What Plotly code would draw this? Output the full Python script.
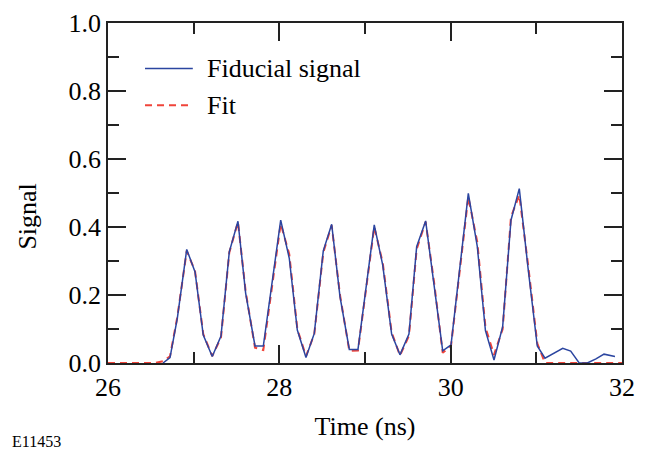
import plotly.graph_objects as go

# Fiducial signal (time in ns, signal)
signal_time = [26.642, 26.724, 26.809, 26.919, 27.016, 27.112, 27.217, 27.319, 27.416, 27.517,
               27.607, 27.716, 27.813, 27.914, 28.016, 28.116, 28.210, 28.311, 28.408, 28.513,
               28.611, 28.708, 28.817, 28.918, 29.011, 29.108, 29.207, 29.311, 29.408, 29.513,
               29.603, 29.708, 29.805, 29.907, 30.004, 30.105, 30.206, 30.311, 30.406, 30.506,
               30.607, 30.704, 30.801, 30.903, 31.011, 31.101, 31.206, 31.308, 31.401, 31.498,
               31.595, 31.696, 31.790, 31.918]
signal_vals = [0.000, 0.016, 0.131, 0.334, 0.268, 0.082, 0.019, 0.079, 0.327, 0.417,
               0.205, 0.050, 0.050, 0.230, 0.420, 0.308, 0.097, 0.016, 0.087, 0.330,
               0.408, 0.195, 0.040, 0.040, 0.220, 0.406, 0.288, 0.085, 0.024, 0.085,
               0.342, 0.418, 0.231, 0.036, 0.053, 0.276, 0.499, 0.342, 0.095, 0.009,
               0.107, 0.420, 0.513, 0.280, 0.050, 0.014, 0.028, 0.043, 0.035, 0.001,
               0.000, 0.012, 0.026, 0.019]

# Fit
fit_time = [26.0, 26.55, 26.642, 26.724, 26.809, 26.919, 27.016, 27.112, 27.217, 27.319,
            27.416, 27.517, 27.607, 27.716, 27.813, 27.914, 28.016, 28.116, 28.210, 28.311,
            28.408, 28.513, 28.611, 28.708, 28.817, 28.918, 29.011, 29.108, 29.207, 29.311,
            29.408, 29.513, 29.603, 29.708, 29.805, 29.907, 30.004, 30.105, 30.206, 30.311,
            30.406, 30.506, 30.607, 30.704, 30.801, 30.903, 31.011, 31.101, 32.0]
fit_vals = [0.0, 0.0, 0.005, 0.020, 0.135, 0.330, 0.270, 0.085, 0.020, 0.075,
            0.325, 0.415, 0.210, 0.045, 0.038, 0.225, 0.410, 0.320, 0.100, 0.020,
            0.085, 0.325, 0.405, 0.200, 0.036, 0.037, 0.215, 0.400, 0.295, 0.090,
            0.022, 0.080, 0.335, 0.415, 0.240, 0.030, 0.050, 0.270, 0.489, 0.355,
            0.105, 0.024, 0.100, 0.430, 0.494, 0.290, 0.058, 0.0, 0.0]

x_ticks = [26, 28, 30, 32]
y_ticks = [0.0, 0.2, 0.4, 0.6, 0.8, 1.0]

BLUE = "#2b45a0"
RED = "#f0443a"
FONT = "Liberation Serif, Times New Roman, serif"
FS = 26

fig = go.Figure()
fig.add_trace(go.Scatter(x=fit_time, y=fit_vals, mode="lines", name="Fit",
                         line=dict(color=RED, width=2, dash="7px,5px"), showlegend=False))
fig.add_trace(go.Scatter(x=signal_time, y=signal_vals, mode="lines", name="Fiducial signal",
                         line=dict(color=BLUE, width=1.5), showlegend=False))

axis_common = dict(showgrid=False, zeroline=False, showline=True, linecolor="#222",
                   linewidth=1.5, mirror="ticks", ticks="inside", ticklen=18,
                   tickwidth=1.5, tickcolor="#222", automargin=False,
                   tickfont=dict(family=FONT, size=FS, color="black"))

fig.update_xaxes(range=[26, 32], tickvals=x_ticks, ticktext=[str(v) for v in x_ticks],
                 minor=dict(dtick=1, tick0=26, ticklen=11, tickwidth=1.5, tickcolor="#222", ticks="inside"),
                 title=dict(text="Time (ns)", font=dict(family=FONT, size=FS, color="black"), standoff=16),
                 **axis_common)
fig.update_yaxes(range=[0, 1.0], tickvals=y_ticks, ticktext=[f"{v:.1f}" for v in y_ticks],
                 minor=dict(dtick=0.1, tick0=0, ticklen=11, tickwidth=1.5, tickcolor="#222", ticks="inside"),
                 **axis_common)

# y-axis title placed as rotated text
fig.add_annotation(xref="paper", yref="paper", x=-0.156, y=0.43, text="Signal", textangle=-90,
                   showarrow=False, xanchor="center", yanchor="middle",
                   font=dict(family=FONT, size=FS, color="black"))

# Legend drawn as shapes + text
fig.add_shape(type="line", xref="paper", yref="paper", x0=0.072, x1=0.165, y0=0.866, y1=0.866,
              line=dict(color=BLUE, width=1.5))
fig.add_shape(type="line", xref="paper", yref="paper", x0=0.072, x1=0.165, y0=0.758, y1=0.758,
              line=dict(color=RED, width=2, dash="7px,5px"))
fig.add_annotation(xref="paper", yref="paper", x=0.189, y=0.866, text="Fiducial signal",
                   showarrow=False, xanchor="left", yanchor="middle",
                   font=dict(family=FONT, size=FS, color="black"))
fig.add_annotation(xref="paper", yref="paper", x=0.189, y=0.758, text="Fit",
                   showarrow=False, xanchor="left", yanchor="middle",
                   font=dict(family=FONT, size=FS, color="black"))
fig.add_annotation(xref="paper", yref="paper", x=-0.19, y=-0.232, text="E11453",
                   showarrow=False, xanchor="left", yanchor="middle",
                   font=dict(family=FONT, size=16, color="black"))

# The page body adds an 8px margin, so the figure is 8px smaller on each axis
fig.update_layout(width=639, height=445, margin=dict(l=100, r=25, t=15, b=90),
                  plot_bgcolor="white", paper_bgcolor="white", showlegend=False)

fig.write_html("out.html")
